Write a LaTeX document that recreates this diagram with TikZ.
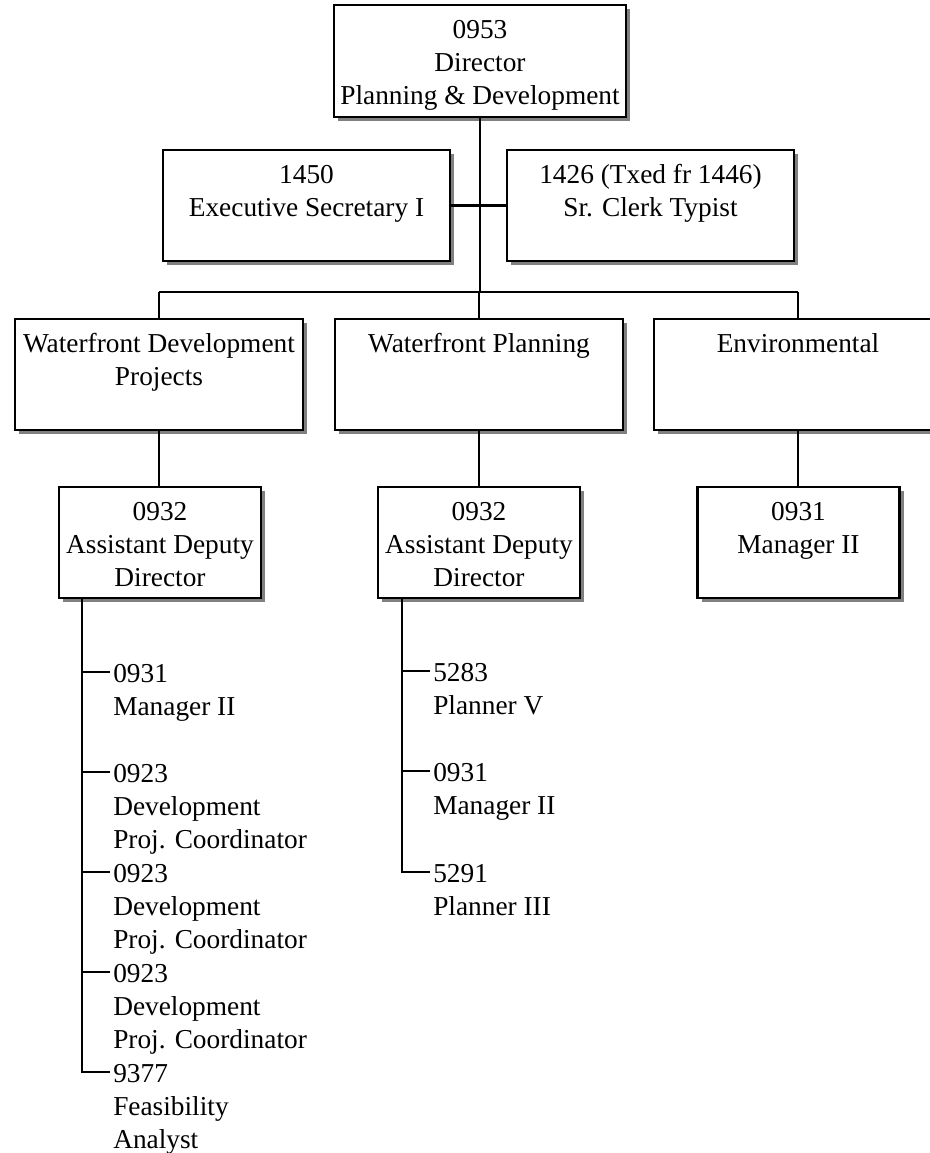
\documentclass[tikz,border=0pt]{standalone}
\usepackage{fontspec}
\setmainfont{Liberation Serif}
\usetikzlibrary{shadows}
\begin{document}
\begin{tikzpicture}[x=0.75pt,y=-0.75pt,
  font=\fontsize{20.5pt}{24.75pt}\selectfont,
  orgbox/.style={draw=black,line width=1.9pt,fill=white,inner sep=0pt,
    drop shadow={shadow xshift=3pt,shadow yshift=-3pt,fill=black!50,opacity=1}},
  item/.style={anchor=base west,inner sep=0pt},
  conn/.style={line width=1.6pt}]
\newcommand{\orgbx}[3]{\parbox[t][#2][t]{#1}{\centering\rule{0pt}{24.75pt}#3}}
\newcommand{\orgit}[1]{\parbox[t]{200pt}{\raggedright #1}}
\useasboundingbox (0,0) rectangle (930,1153);
\clip (0,0) rectangle (930,1153);

% boxes
\node[orgbox] (dir) at (480,61) {\orgbx{219pt}{84pt}{0953\\Director\\Planning \& Development}};
\node[orgbox] (sec) at (306.5,205.5) {\orgbx{215.25pt}{83.25pt}{1450\\Executive Secretary I}};
\node[orgbox] (clk) at (650.5,205.5) {\orgbx{215.25pt}{83.25pt}{1426 (Txed fr 1446)\\Sr. Clerk Typist}};
\node[orgbox] (wdp) at (159,374.5) {\orgbx{216pt}{83.25pt}{Waterfront Development\\Projects}};
\node[orgbox] (wp) at (479,374.5) {\orgbx{216pt}{83.25pt}{Waterfront Planning}};
\node[orgbox] (env) at (798,374.5) {\orgbx{216pt}{83.25pt}{Environmental}};
\node[orgbox] (add1) at (160,542.5) {\orgbx{151.5pt}{83.25pt}{0932\\Assistant Deputy\\Director}};
\node[orgbox] (add2) at (479,542.5) {\orgbx{151.5pt}{83.25pt}{0932\\Assistant Deputy\\Director}};
\node[orgbox] (mgr) at (798.5,542.5) {\orgbx{151.5pt}{83.25pt}{0931\\Manager II}};

% list items
\node[item] (a1) at (113,682) {\orgit{0931\\Manager II}};
\node[item] (a2) at (113,782) {\orgit{0923\\Development\\Proj. Coordinator}};
\node[item] (a3) at (113,882) {\orgit{0923\\Development\\Proj. Coordinator}};
\node[item] (a4) at (113,982) {\orgit{0923\\Development\\Proj. Coordinator}};
\node[item] (a5) at (113,1082) {\orgit{9377\\Feasibility\\Analyst}};
\node[item] (b1) at (433,681) {\orgit{5283\\Planner V}};
\node[item] (b2) at (433,781) {\orgit{0931\\Manager II}};
\node[item] (b3) at (433,882) {\orgit{5291\\Planner III}};

% connectors
\coordinate (bar) at (0,292);
\draw[conn] (dir.south) -- (dir.south |- bar);
\draw[conn] (sec.east) -- (clk.west);
\draw[conn] (wdp.north |- bar) -- (env.north |- bar);
\draw[conn] (wdp.north |- bar) -- (wdp.north);
\draw[conn] (wp.north |- bar) -- (wp.north);
\draw[conn] (env.north |- bar) -- (env.north);
\draw[conn] (wdp.south) -- (add1.north -| wdp.south);
\draw[conn] (wp.south) -- (add2.north -| wp.south);
\draw[conn] (env.south) -- (mgr.north -| env.south);

\coordinate (tk1) at ([xshift=18pt]add1.south west);
\coordinate (tk2) at ([xshift=18.75pt]add2.south west);
\foreach \n in {a1,a2,a3,a4,a5,b1,b2,b3}
  \coordinate (\n t) at ([xshift=-2.25pt,yshift=7.2pt]\n.base west);
\draw[conn] (tk1) |- (a5t);
\foreach \n in {a1,a2,a3,a4} \draw[conn] (tk1 |- \n t) -- (\n t);
\draw[conn] (tk2) |- (b3t);
\foreach \n in {b1,b2} \draw[conn] (tk2 |- \n t) -- (\n t);
\end{tikzpicture}
\end{document}
